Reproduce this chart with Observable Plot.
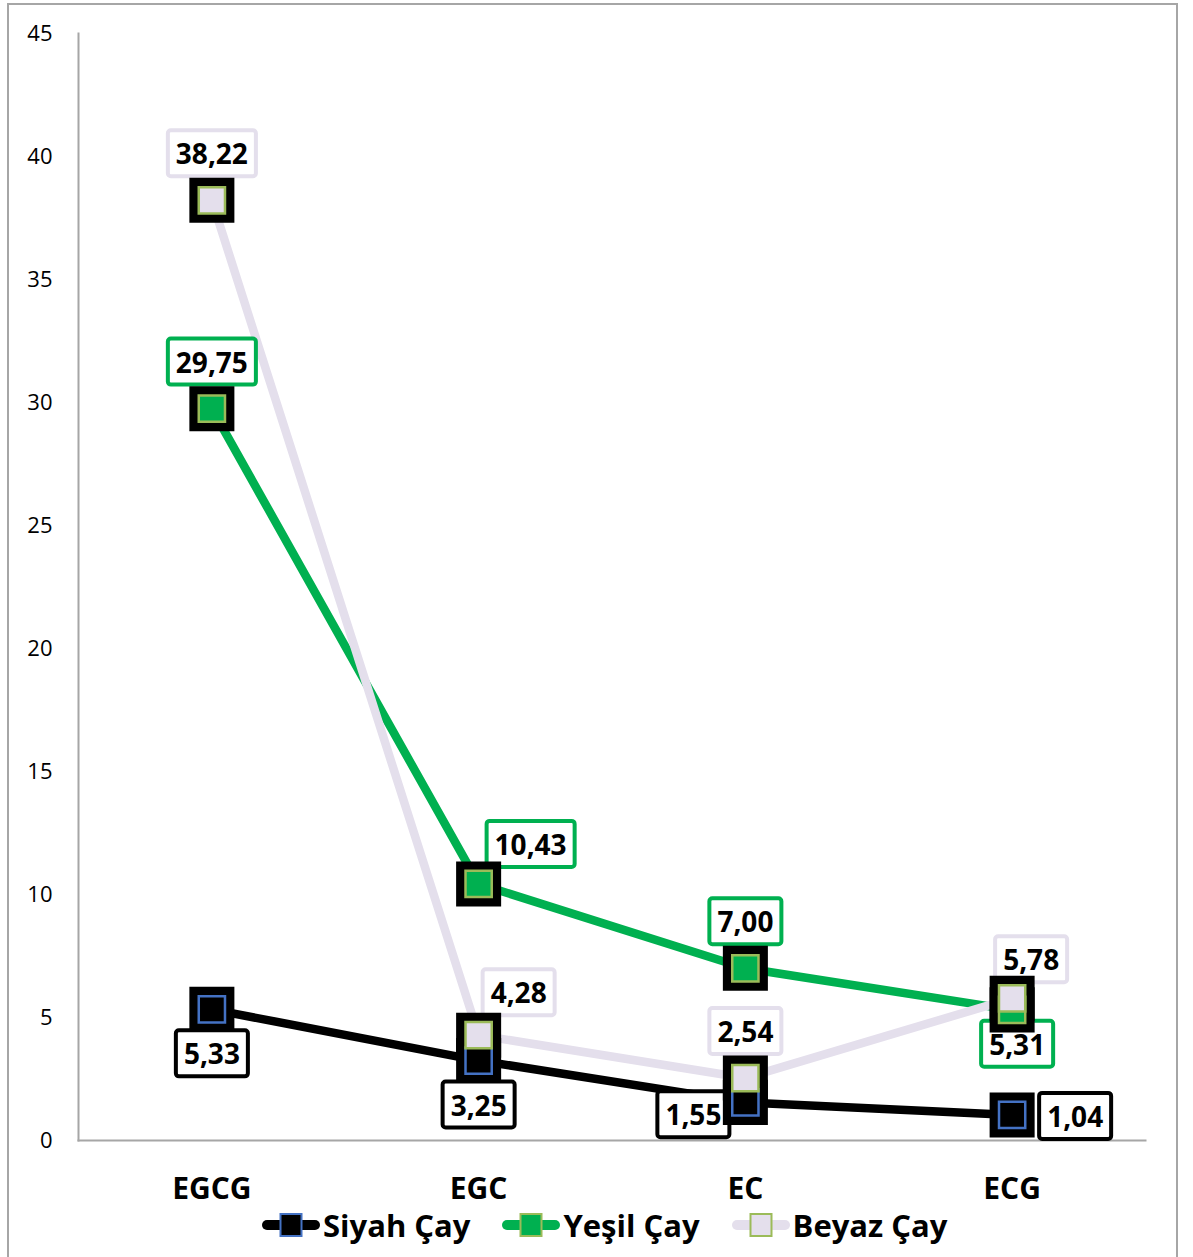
<!DOCTYPE html>
<html><head><meta charset="utf-8">
<script src="https://cdn.jsdelivr.net/npm/d3@7"></script>
<script src="https://cdn.jsdelivr.net/npm/@observablehq/plot@0.6"></script>
<style>
body{margin:0;background:#fff;font-family:"Open Sans",sans-serif;}
#frame{position:absolute;left:7px;top:3px;width:1167px;height:1290px;border:2px solid #a6a6a6;overflow:hidden;}
#chart{position:absolute;left:0;top:0;}
#legend{position:absolute;left:253px;top:1200px;height:40px;display:flex;align-items:center;font-weight:700;font-size:31px;color:#000;}
.item{display:flex;align-items:center;margin-right:32px;}
.item span{margin-left:3px;line-height:40px;}
</style></head>
<body><div id="frame"><div id="chart"></div><div id="legend"></div></div>
<script>
const categories = ["EGCG", "EGC", "EC", "ECG"];
const seriesNames = ["Siyah Çay", "Yeşil Çay", "Beyaz Çay"];
const siyah = [5.33, 3.25, 1.55, 1.04];
const yesil = [29.75, 10.43, 7.00, 5.31];
const beyaz = [38.22, 4.28, 2.54, 5.78];
const yTicks = [0, 5, 10, 15, 20, 25, 30, 35, 40, 45];

// styling
const lineColors = ["#000000", "#00B050", "#E4DFEC"];
const markerStroke = ["#4472C4", "#9BBB59", "#9BBB59"];
const boxStroke = ["#000000", "#00B050", "#E4DFEC"];
const labelSide = [
  ["below", "below", "lowerLeft", "right"],
  ["above", "upperRight", "above", "belowNear"],
  ["above", "upperRightNear", "above", "aboveNear"]
];
const sideOffset = {
  below: [0, 46], above: [0, -45], lowerLeft: [-52, 14], right: [63, 3],
  upperRight: [52, -38], belowNear: [5, 36], upperRightNear: [40, -41], aboveNear: [19, -37]
};

const values = [siyah, yesil, beyaz];
const rows = [];
values.forEach((arr, si) => arr.forEach((v, ci) => rows.push({
  series: seriesNames[si], si, cat: categories[ci], value: v, side: labelSide[si][ci]
})));
const fmt = v => d3.format(".2f")(v).replace(".", ",");

const labelMarks = [];
seriesNames.forEach((s, si) => {
  const sides = Array.from(new Set(labelSide[si]));
  sides.forEach(side => {
    const [dx, dy] = sideOffset[side];
    labelMarks.push(Plot.text(rows.filter(r => r.si === si && r.side === side), {
      x: "cat", y: "value", text: d => fmt(d.value), dx, dy,
      fontSize: 28, fontWeight: 700, fill: "#000", className: "lbl-s" + si
    }));
  });
});

const innerMarks = seriesNames.map((s, si) => Plot.dot(rows.filter(r => r.si === si), {
  x: "cat", y: "value", symbol: "square", r: 14.8, fill: lineColors[si],
  stroke: markerStroke[si], strokeWidth: 2.5
}));

const svg = Plot.plot({
  width: 1167, height: 1205,
  marginLeft: 69, marginRight: 31, marginTop: 28, marginBottom: 70,
  style: {fontFamily: "Open Sans", color: "#000", background: "transparent"},
  x: {type: "point", domain: categories, padding: 0.5, round: false},
  y: {domain: [0, 45]},
  color: {domain: seriesNames, range: lineColors},
  marks: [
    Plot.frame({anchor: "left", stroke: "#a6a6a6", strokeWidth: 2}),
    Plot.frame({anchor: "bottom", stroke: "#a6a6a6", strokeWidth: 2}),
    Plot.axisY({ticks: yTicks, tickSize: 0, tickPadding: 26, fontSize: 22, label: null}),
    Plot.axisX({tickSize: 0, tickPadding: 37, fontSize: 30, fontWeight: 700, label: null}),
    Plot.line(rows, {x: "cat", y: "value", z: "series", stroke: "series", strokeWidth: 8.5, strokeLinejoin: "round"}),
    ...labelMarks,
    Plot.dot(rows, {x: "cat", y: "value", symbol: "square", r: 25.4, fill: "#000"}),
    ...innerMarks
  ]
});
document.getElementById("chart").append(svg);

// boxes behind value labels
seriesNames.forEach((s, si) => {
  svg.querySelectorAll(`g.lbl-s${si} text`).forEach(t => {
    const bb = t.getBBox();
    const r = document.createElementNS("http://www.w3.org/2000/svg", "rect");
    r.setAttribute("x", bb.x - 8);
    r.setAttribute("y", bb.y + bb.height / 2 - 23);
    r.setAttribute("width", bb.width + 16);
    r.setAttribute("height", 46);
    r.setAttribute("rx", 3);
    r.setAttribute("fill", "#fff");
    r.setAttribute("stroke", boxStroke[si]);
    r.setAttribute("stroke-width", 4);
    const tr = t.getAttribute("transform");
    if (tr) r.setAttribute("transform", tr);
    t.parentNode.insertBefore(r, t);
  });
});

// legend
const legend = d3.select("#legend");
seriesNames.forEach((s, si) => {
  const item = legend.append("div").attr("class", "item");
  const sw = item.append("svg").attr("width", 58).attr("height", 30);
  sw.append("line").attr("x1", 5).attr("x2", 53).attr("y1", 15).attr("y2", 15)
    .attr("stroke", lineColors[si]).attr("stroke-width", 10).attr("stroke-linecap", "round");
  sw.append("rect").attr("x", 18.5).attr("y", 4).attr("width", 21).attr("height", 22)
    .attr("fill", lineColors[si]).attr("stroke", markerStroke[si]).attr("stroke-width", 2);
  item.append("span").text(s);
});
</script>
</body></html>
